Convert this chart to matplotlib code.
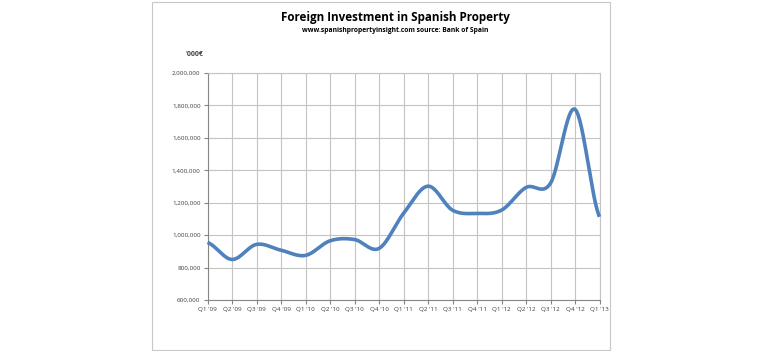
import numpy as np
import matplotlib.pyplot as plt
from matplotlib.patches import Rectangle

# quarterly foreign investment, '000 EUR
quarters = ["Q1 '09", "Q2 '09", "Q3 '09", "Q4 '09", "Q1 '10", "Q2 '10", "Q3 '10", "Q4 '10",
            "Q1 '11", "Q2 '11", "Q3 '11", "Q4 '11", "Q1 '12", "Q2 '12", "Q3 '12", "Q4 '12",
            "Q1 '13"]
investment = [955000, 850000, 943000, 907000, 875000, 965000, 973000, 918000,
              1134000, 1302000, 1154000, 1134000, 1154000, 1294000, 1320000, 1776000,
              1113000]
y_ticks = [600000, 800000, 1000000, 1200000, 1400000, 1600000, 1800000, 2000000]


def smooth(y, n=30):
    # Catmull-Rom style smoothing like Excel's "smoothed line"
    y = np.asarray(y, dtype=float)
    p = np.concatenate([[y[0]], y, [y[-1]]])
    xs, ys = [], []
    for i in range(len(y) - 1):
        p0, p1, p2, p3 = p[i], p[i + 1], p[i + 2], p[i + 3]
        t = np.linspace(0, 1, n, endpoint=False)
        seg = 0.5 * ((2 * p1) + (-p0 + p2) * t + (2 * p0 - 5 * p1 + 4 * p2 - p3) * t ** 2
                     + (-p0 + 3 * p1 - 3 * p2 + p3) * t ** 3)
        xs.append(i + t)
        ys.append(seg)
    xs.append([len(y) - 1])
    ys.append([y[-1]])
    return np.concatenate(xs), np.concatenate(ys)


plt.rcParams['font.family'] = ['Open Sans', 'DejaVu Sans']

fig = plt.figure(figsize=(7.74, 3.51), dpi=100)
fig.patches.append(Rectangle((152 / 774, 1 / 351), 458 / 774, 348 / 351, transform=fig.transFigure,
                             fill=False, edgecolor='#c8c8c8', linewidth=0.8))

ax = fig.add_axes([207.5 / 774, 51 / 351, 392 / 774, 227 / 351])
x = np.arange(len(quarters))
sx, sy = smooth(investment)
ax.plot(sx, sy, color='#4f81bd', linewidth=2.6, solid_capstyle='butt', clip_on=False, zorder=3)

ax.set_xlim(0, len(quarters) - 1)
ax.set_ylim(600000, 2000000)
ax.set_xticks(x)
ax.set_xticklabels(quarters)
ax.set_yticks(y_ticks)
ax.set_yticklabels([f"{v:,}" for v in y_ticks])
ax.grid(True, color='#c4c4c4', linewidth=0.8)
ax.set_axisbelow(True)
for s in ax.spines.values():
    s.set_color('#c4c4c4')
    s.set_linewidth(0.8)
ax.spines['left'].set_color('#868686')
ax.spines['bottom'].set_color('#868686')
ax.tick_params(labelsize=4.5, colors='#868686', labelcolor='#404040', length=3, width=0.8, pad=2)

fig.text(395 / 774, 1 - 17 / 351, "Foreign Investment in Spanish Property", ha='center', va='center',
         fontsize=8.4, fontweight='bold', color='#000000')
fig.text(395 / 774, 1 - 30 / 351, "www.spanishpropertyinsight.com source: Bank of Spain", ha='center',
         va='center', fontsize=4.9, fontweight='bold', color='#000000')
fig.text(194 / 774, 1 - 55 / 351, "'000€", ha='center', va='center', fontsize=5, fontweight='bold',
         color='#404040')

fig.savefig('out.png', dpi=100, facecolor='white')
